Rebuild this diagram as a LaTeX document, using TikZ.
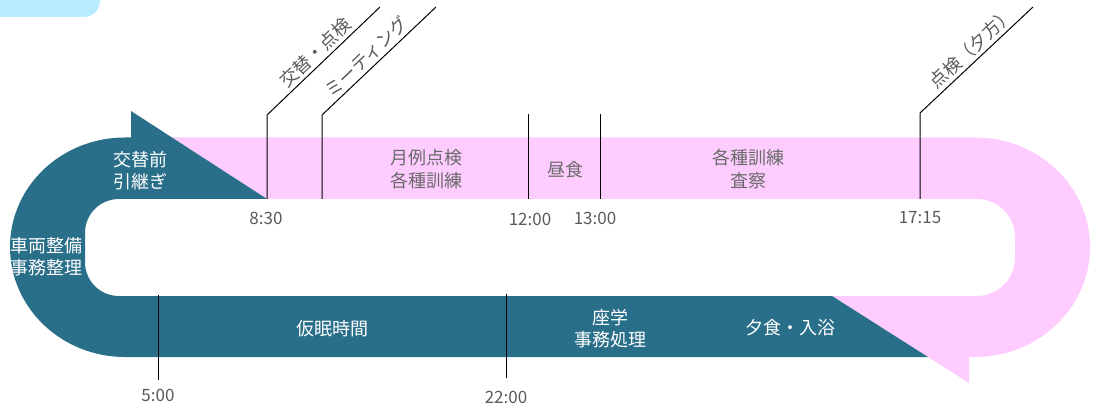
\documentclass[tikz,border=0pt]{standalone}
\usepackage{fontspec}
\setmainfont{Noto Sans CJK JP}
\usepackage{tikz}
\usetikzlibrary{positioning}
\definecolor{nightblue}{HTML}{2A6F8A}
\definecolor{daypink}{HTML}{FECCFE}
\definecolor{tabblue}{HTML}{B9ECFF}
\definecolor{labelgrey}{HTML}{5A5A5A}

\begin{document}
\begin{tikzpicture}[x=1pt, y=-1pt,
whitenode/.style={text=white, align=center, font=\fontsize{18}{22}\selectfont, inner sep=0pt},
greynode/.style={text=labelgrey!90, align=center, font=\fontsize{18}{23}\selectfont, inner sep=0pt},
timenode/.style={text=labelgrey, font=\fontsize{17}{20}\selectfont, inner sep=0pt},
slopednode/.style={text=labelgrey, font=\fontsize{18}{20}\selectfont, sloped, above, inner sep=3pt},
markline/.style={black, line width=1pt},
]
\useasboundingbox (0,0) rectangle (1093,409);

%Shapes
\fill[tabblue, rounded corners=16pt] (-20,-20) rectangle (100,17);
\fill[daypink] (172,137.5) -- (975,137.5)
  .. controls (1038.5,137.5) and (1090,186.2) .. (1090,247)
  .. controls (1090,307.8) and (1038.5,357) .. (975,357)
  -- (969,357) -- (969,383) -- (832,296) -- (977,296)
  .. controls (998,296) and (1015,279) .. (1015,258) -- (1015,237)
  .. controls (1015,216) and (998,199) .. (977,199) -- (267,199) -- cycle;
\fill[nightblue] (267,199) -- (119,199)
  .. controls (100,199) and (85,214) .. (85,233) -- (85,262)
  .. controls (85,281) and (100,296) .. (119,296)
  -- (832,296) -- (928,357) -- (125,357)
  .. controls (61.5,357) and (10,307.8) .. (10,247)
  .. controls (10,186.2) and (61.5,137.5) .. (125,137.5)
  -- (131,137.5) -- (131,111) -- cycle;

%Coordinates
\coordinate (m830a) at (267,199);
\coordinate (m830b) at (267,115);
\coordinate (m830c) at (380,7);
\coordinate (meeta) at (322,199);
\coordinate (meetb) at (322,115);
\coordinate (meetc) at (436,7);
\coordinate (m1200a) at (528,199);
\coordinate (m1200b) at (528,114);
\coordinate (m1300a) at (600,199);
\coordinate (m1300b) at (600,114);
\coordinate (m1715a) at (920,199);
\coordinate (m1715b) at (920,113);
\coordinate (m1715c) at (1033,7);
\coordinate (m500a) at (158,295);
\coordinate (m500b) at (158,380);
\coordinate (m2200a) at (506,294);
\coordinate (m2200b) at (506,378);

%Lines
\draw[markline] (m830a) -- (m830b) -- (m830c) node[slopednode, pos=0.5] (lchange) {交替・点検};
\draw[markline] (meeta) -- (meetb) -- (meetc) node[slopednode, pos=0.46] (lmeet) {ミーティング};
\draw[markline] (m1200a) -- (m1200b);
\draw[markline] (m1300a) -- (m1300b);
\draw[markline] (m1715a) -- (m1715b) -- (m1715c) node[slopednode, pos=0.53] (levening) {点検（夕方）};
\draw[markline] (m500a) -- (m500b);
\draw[markline] (m2200a) -- (m2200b);

%Nodes
\node[whitenode] (handover)  at (140,171) {交替前\\引継ぎ};
\node[whitenode] (upkeep)    at (46,257)  {車両整備\\事務整理};
\node[whitenode] (nap)       at (332,329) {仮眠時間};
\node[whitenode] (study)     at (610,329) {座学\\事務処理};
\node[whitenode] (supper)    at (790,328) {夕食・入浴};
\node[greynode]  (monthly)   at (426,169) {月例点検\\各種訓練};
\node[greynode]  (lunch)     at (565,170) {昼食};
\node[greynode]  (training)  at (748,169) {各種訓練\\査察};

\node[timenode] (t830)  at (266,218) {8:30};
\node[timenode] (t1200) at (530,219) {12:00};
\node[timenode] (t1300) at (595,218) {13:00};
\node[timenode] (t1715) at (920,218) {17:15};
\node[timenode] (t500)  [below=9pt of m500b]  {5:00};
\node[timenode] (t2200) [below=13pt of m2200b] {22:00};
\end{tikzpicture}
\end{document}
